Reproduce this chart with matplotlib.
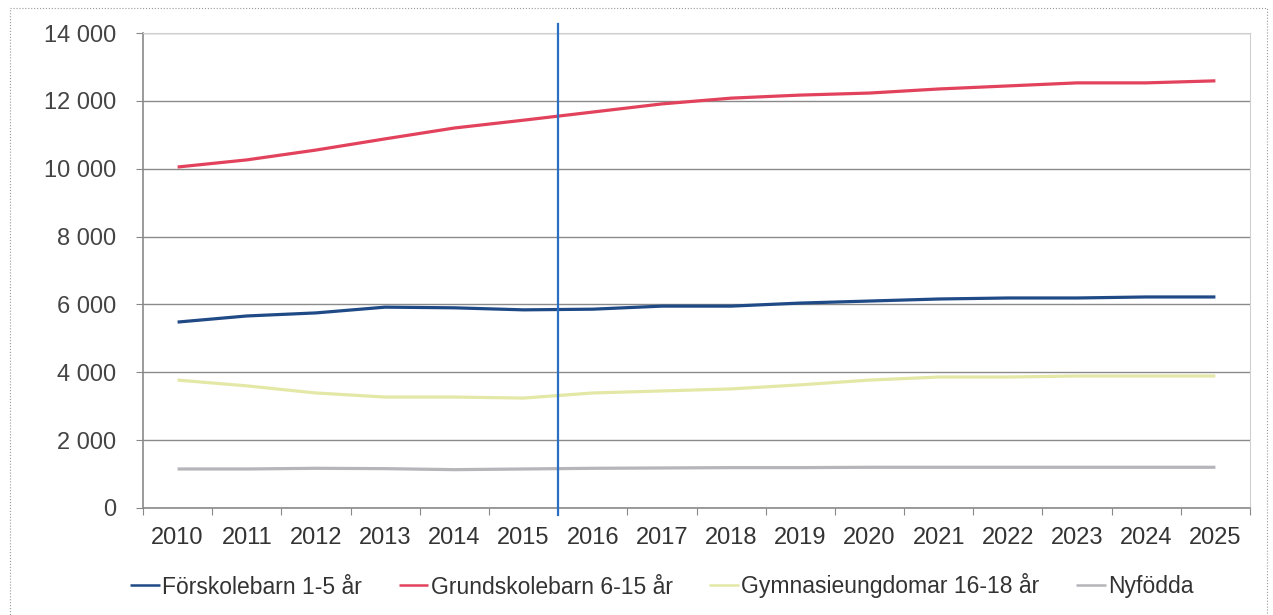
import matplotlib.pyplot as plt
from matplotlib.patches import Rectangle
from matplotlib.ticker import FuncFormatter

plt.rcParams['font.family'] = ['Liberation Sans', 'DejaVu Sans']

# data
years = [str(y) for y in range(2010, 2026)]
forskola = [5480, 5660, 5750, 5920, 5900, 5840, 5860, 5950, 5950, 6040, 6100, 6160, 6190, 6190, 6220, 6220]
grundskola = [10050, 10260, 10550, 10880, 11200, 11430, 11670, 11910, 12080, 12170, 12230, 12350, 12440, 12530, 12530, 12590]
gymnasie = [3770, 3600, 3390, 3270, 3270, 3240, 3390, 3450, 3510, 3630, 3770, 3860, 3860, 3890, 3890, 3890]
nyfodda = [1150, 1150, 1170, 1160, 1130, 1150, 1170, 1180, 1190, 1190, 1200, 1200, 1200, 1200, 1200, 1200]
series_names = ["Förskolebarn 1-5 år", "Grundskolebarn 6-15 år", "Gymnasieungdomar 16-18 år", "Nyfödda"]
colors = ["#1f4a86", "#e2425c", "#e3e8a6", "#b5b5ba"]
split_pos = 5.5  # between 2015 and 2016

W, H = 1273, 615
fig = plt.figure(figsize=(W / 100, H / 100), dpi=100)
ax = fig.add_axes([143 / W, 1 - 508 / H, (1250 - 143) / W, (508 - 33) / H])

x = list(range(len(years)))
for vals, name, c in zip([forskola, grundskola, gymnasie, nyfodda], series_names, colors):
    ax.plot(x, vals, color=c, lw=2.3, label=name, solid_capstyle='butt')

ax.set_ylim(0, 14000)
ax.set_xlim(-0.5, len(years) - 0.5)
ax.set_yticks(range(0, 14001, 2000))
ax.yaxis.set_major_formatter(FuncFormatter(lambda v, p: f"{int(v):,}".replace(",", " ")))
ax.grid(axis='y', color='#8a8a8a', lw=1.0)
ax.set_axisbelow(True)

# category axis: ticks at boundaries, labels centered
ax.set_xticks([i - 0.5 for i in range(len(years) + 1)])
ax.set_xticklabels([])
ax.set_xticks(x, minor=True)
ax.set_xticklabels(years, minor=True)
ax.tick_params(axis='x', which='minor', length=0, pad=14, labelsize=17, labelcolor='#333333')
ax.tick_params(axis='x', which='major', length=5, color='#888888')
ax.tick_params(axis='y', length=5, color='#888888', labelsize=17, labelcolor='#444444', pad=14)

for s in ['left', 'bottom']:
    ax.spines[s].set_color('#8a8a8a')
    ax.spines[s].set_linewidth(1.2)
for s in ['top', 'right']:
    ax.spines[s].set_color('#d0d0d0')

# vertical marker line
ax.plot([split_pos, split_pos], [-0.015, 1.02], color='#2a6fc4', lw=1.6,
        transform=ax.get_xaxis_transform(), clip_on=False, zorder=5)

leg = fig.legend(loc='center', bbox_to_anchor=(0.52, 1 - 586 / H), ncol=4, frameon=False,
                 fontsize=16.5, handlelength=1.3, handletextpad=0.1, columnspacing=1.6)
for t in leg.get_texts():
    t.set_color('#333333')
for h in leg.get_lines():
    h.set_linewidth(1.8)

# outer frame of the scanned chart
fig.patches.append(Rectangle((10 / W, -0.02), (1267 - 10) / W, 1 - 8 / H + 0.02,
                             transform=fig.transFigure, fill=False, ls=':', lw=0.8,
                             ec='#999999'))

fig.savefig("out.png", dpi=100)
